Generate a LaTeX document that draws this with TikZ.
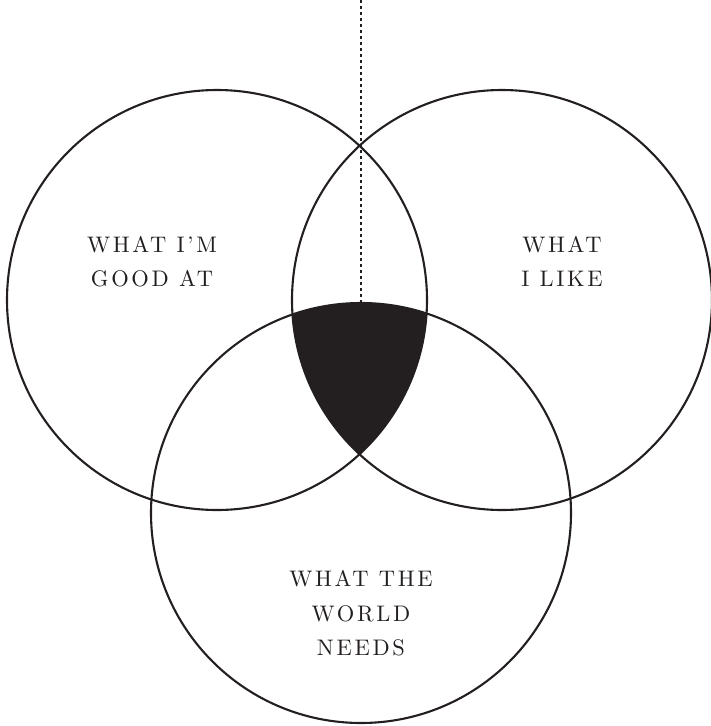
\documentclass[tikz,border=0pt]{standalone}
\usepackage{fontspec}
\newfontfamily\labfont{lmroman10-regular.otf}[LetterSpace=12]
\definecolor{ink}{HTML}{231F20}
\tikzset{
  ring/.style={circle, draw=ink, line width=2.1pt, minimum size=420pt, inner sep=0pt, outer sep=0pt},
  label/.style={align=center, inner sep=0pt, text=ink,
    font=\labfont\fontsize{22.5}{34.5}\selectfont},
  guide/.style={draw=ink, line width=2pt, dash pattern=on 2.5pt off 3.5pt}
}
\begin{document}
\begin{tikzpicture}[x=1pt,y=-1pt]
\useasboundingbox (0,0) rectangle (711,726);
\coordinate (cl) at (217,300);
\coordinate (cr) at (502,300);
\coordinate (cb) at (361,513);
\begin{scope}
  \clip (cl) circle (210pt);
  \clip (cr) circle (210pt);
  \fill[ink] (cb) circle (210pt);
\end{scope}
\node[ring] (good) at (cl) {};
\node[ring] (like) at (cr) {};
\node[ring] (world) at (cb) {};
\coordinate (top) at (361,0);
\draw[guide] (top) -- (world.north);
\node[label] (tgood) at (152,261.5) {WHAT I’M\\GOOD AT};
\node[label] (tlike) at (562,261.5) {WHAT\\I LIKE};
\node[label] (tworld) at (361,613.5) {WHAT THE\\WORLD\\NEEDS};
\end{tikzpicture}
\end{document}
